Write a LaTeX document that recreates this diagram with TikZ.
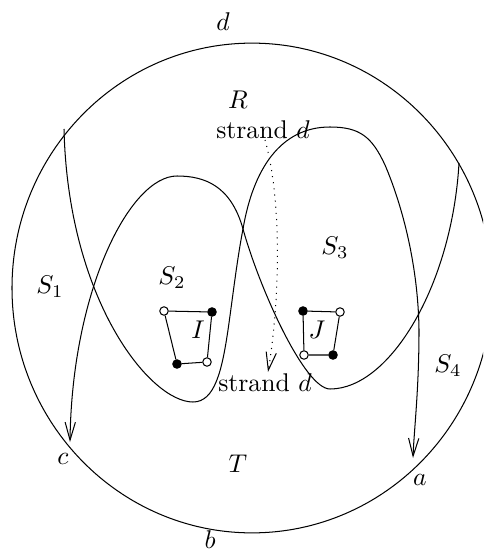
\documentclass[tikz,border=0pt]{standalone}
\usepackage{amsmath}
\usepackage{tikz}
\usetikzlibrary{arrows.meta}

\begin{document}
\begin{tikzpicture}[x=0.39pt,y=-0.39pt,>={Straight Barb[length=7pt,width=4pt]},
    blk/.style={circle,draw,fill=black,inner sep=0pt,minimum size=3.3pt},
    wht/.style={circle,draw,fill=white,inner sep=0pt,minimum size=3.3pt}]
    \useasboundingbox (0,0) rectangle (483,554);
    \clip (0,0) rectangle (483,554);
    % disk
    \draw (252,288) ellipse [x radius=93.6pt, y radius=95.5pt];
    % strand from the top left down to a
    \coordinate (p1) at (64,129);
    \coordinate (a1) at (413,458);
    \draw[->] (p1) .. controls (68,300) and (150,402) .. (193,402)
        .. controls (215,402) and (222,370) .. (228,330)
        .. controls (233,295) and (237,260) .. (243,229)
        .. controls (253,170) and (280,127) .. (330,127)
        .. controls (360,127) and (372,137) .. (385,165)
        .. controls (400,200) and (418,260) .. (419,330)
        .. controls (419,390) and (414,430) .. (a1);
    % strand from the top right down to c
    \coordinate (p2) at (459,163);
    \coordinate (c1) at (70,442);
    \draw[->] (p2) .. controls (452,285) and (390,389) .. (330,389)
        .. controls (305,389) and (260,290) .. (243,229)
        .. controls (231,186) and (205,176) .. (177,176)
        .. controls (130,176) and (72,290) .. (c1);
    % strand d
    \draw[->,dotted] (265,140) .. controls (282,200) and (280,300) .. (268,372);
    % square I
    \node[wht] (i1) at (164,311) {};
    \node[blk] (i2) at (212,312) {};
    \node[wht] (i3) at (207,362) {};
    \node[blk] (i4) at (177,364) {};
    \draw (i1)--(i2)--(i3)--(i4)--(i1);
    % square J
    \node[blk] (j1) at (303,311) {};
    \node[wht] (j2) at (340,312) {};
    \node[blk] (j3) at (333,355) {};
    \node[wht] (j4) at (304,355) {};
    \draw (j1)--(j2)--(j3)--(j4)--(j1);
    % labels
    \node (ld) at (223,22) {$d$};
    \node (lR) at (238,100) {$R$};
    \node (st1) at (263,130) {strand $d$};
    \node (st2) at (265,383) {strand $d$};
    \node (s1) at (50,287) {$S_1$};
    \node (s2) at (172,278) {$S_2$};
    \node (s3) at (335,248) {$S_3$};
    \node (s4) at (448,366) {$S_4$};
    \node (lI) at (198,330) {$I$};
    \node (lJ) at (317,330) {$J$};
    \node (lc) at (63,459) {$c$};
    \node (lT) at (238,464) {$T$};
    \node (la) at (420,480) {$a$};
    \node (lb) at (210,540) {$b$};
\end{tikzpicture}
\end{document}
